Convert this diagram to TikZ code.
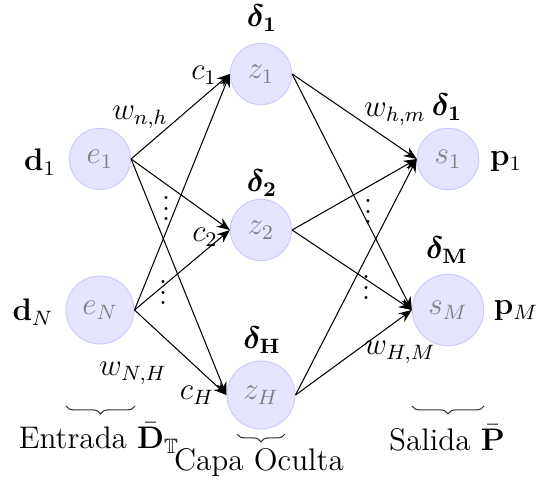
\documentclass[tikz,border=0pt,12pt]{standalone}
\usepackage{amsmath,amssymb,bm}
\usetikzlibrary{arrows.meta,decorations.pathreplacing}
\begin{document}
\begin{tikzpicture}[x=0.3846pt,y=-0.3846pt,
 neuron/.style={circle,fill=blue!10,draw=blue!20,text=gray,inner sep=4pt},
 conn/.style={-{Stealth[length=5pt,width=4pt]}, black},
 brace/.style={decorate,decoration={brace,amplitude=3pt,mirror},black!80}]
\useasboundingbox (0,0) rectangle (536,485);
\node[neuron] (e1) at (100,159) {$e_1$};
\node[neuron] (eN) at (100,310) {$e_N$};
\node[neuron] (z1) at (261,74) {$z_1$};
\node[neuron] (z2) at (261,230) {$z_2$};
\node[neuron] (zH) at (261,395) {$z_H$};
\node[neuron] (s1) at (448,159) {$s_1$};
\node[neuron] (sM) at (448,310) {$s_M$};
\foreach \a in {e1,eN} \foreach \b in {z1,z2,zH} \draw[conn] (\a.east) -- (\b.west);
\foreach \a in {z1,z2,zH} \foreach \b in {s1,sM} \draw[conn] (\a.east) -- (\b.west);
\node (ld1) at (40,162) {$\mathbf{d}_1$};
\node (ldN) at (33,312) {$\mathbf{d}_N$};
\node (lz1) at (262,18) {$\boldsymbol{\delta}_{\mathbf{1}}$};
\node (lz2) at (262,183) {$\boldsymbol{\delta}_{\mathbf{2}}$};
\node (lzH) at (262,340) {$\boldsymbol{\delta}_{\mathbf{H}}$};
\node (ls1) at (447,107) {$\boldsymbol{\delta}_{\mathbf{1}}$};
\node (lsM) at (447,250) {$\boldsymbol{\delta}_{\mathbf{M}}$};
\node (p1) at (506,162) {$\mathbf{p}_1$};
\node (pM) at (516,311) {$\mathbf{p}_M$};
\node (c1) at (204,75) {$c_1$};
\node (c2) at (205,237) {$c_2$};
\node (cH) at (197,395) {$c_H$};
\node (w1) at (140,117) {$w_{n,h}$};
\node (w2) at (395,114) {$w_{h,m}$};
\node (w3) at (133,373) {$w_{N,H}$};
\node (w4) at (400,352) {$w_{H,M}$};
\node (v1) at (166,201) {$\vdots$};
\node (v2) at (163,285) {$\vdots$};
\node (v3) at (368,204) {$\vdots$};
\node (v4) at (366,280) {$\vdots$};
\draw[brace] (66,406) -- (135,406);
\draw[brace] (237,434) -- (285,434);
\draw[brace] (412,406) -- (484,406);
\node (t1) at (99,438) {Entrada $\bar{\mathbf{D}}_\mathbb{T}$};
\node (t2) at (259,463) {Capa Oculta};
\node (t3) at (447,438) {Salida $\bar{\mathbf{P}}$};
\end{tikzpicture}
\end{document}
